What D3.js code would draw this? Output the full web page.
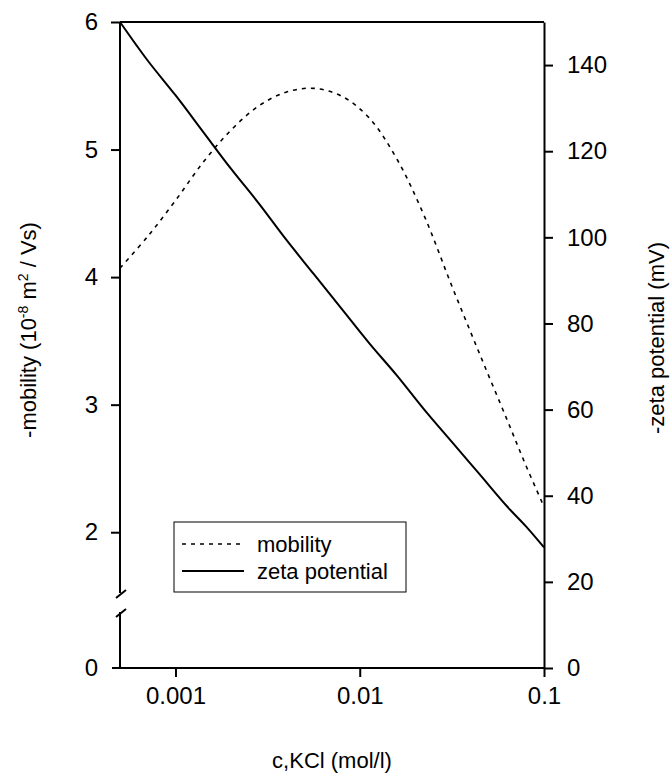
<!DOCTYPE html>
<html>
<head>
<meta charset="utf-8">
<script src="https://cdn.jsdelivr.net/npm/d3@7"></script>
<style>
  body { margin: 0; background: #fff; }
  svg { display: block; font-family: "Liberation Sans", Arial, sans-serif; }
</style>
</head>
<body>
<svg width="672" height="778"></svg>
<script>
// concentration (mol/l) where the curves were read
var conc = [0.0005, 0.000708, 0.001, 0.001413, 0.001995, 0.002818, 0.003981, 0.005623, 0.007943,
            0.01122, 0.01585, 0.02239, 0.03162, 0.04467, 0.0631, 0.0794, 0.1];
// -mobility (1e-8 m2/Vs), dashed, left axis
var mobility = [4.07, 4.32, 4.6, 4.9, 5.15, 5.34, 5.45, 5.48, 5.42, 5.25, 4.93, 4.48, 3.93, 3.4, 2.88, 2.53, 2.2];
// -zeta potential (mV), solid, right axis
var zeta = [150, 141, 133, 124.5, 116, 108, 99.5, 91.5, 83.5, 75.5, 68, 60, 52.5, 45, 37.5, 33, 28];

var xTicks = [0.001, 0.01, 0.1];
var xTickLabels = ["0.001", "0.01", "0.1"];
var leftTicks = [2, 3, 4, 5, 6];
var rightTicks = [0, 20, 40, 60, 80, 100, 120, 140];
var legendLabels = ["mobility", "zeta potential"];

var svg = d3.select("svg");
var pLeft = 120, pRight = 544, pTop = 22, pBottom = 668;

var x = d3.scaleLog().domain([0.0005, 0.1]).range([pLeft, pRight]);
var yL = d3.scaleLinear().domain([1.5, 6]).range([596, pTop]); // above the break
var yR = d3.scaleLinear().domain([0, 150]).range([pBottom, pTop]);

var fontSize = 24;

// top frame line
svg.append("line").attr("x1", pLeft).attr("x2", pRight).attr("y1", pTop).attr("y2", pTop)
    .attr("stroke", "#000").attr("stroke-width", 2);

// x axis
var xAxis = svg.append("g").attr("transform", "translate(0," + pBottom + ")")
    .call(d3.axisBottom(x).tickValues(xTicks).tickFormat(function (d, i) { return xTickLabels[i]; })
        .tickSizeInner(9).tickSizeOuter(0).tickPadding(10));
xAxis.select(".domain").attr("d", "M" + (pLeft - 8) + ",0H" + pRight).attr("stroke-width", 2);

// right axis
var rAxis = svg.append("g").attr("transform", "translate(" + pRight + ",0)")
    .call(d3.axisRight(yR).tickValues(rightTicks).tickSizeInner(9).tickSizeOuter(0).tickPadding(14));
rAxis.select(".domain").attr("stroke-width", 2);

// left axis, upper part
var lAxis = svg.append("g").attr("transform", "translate(" + pLeft + ",0)")
    .call(d3.axisLeft(yL).tickValues(leftTicks).tickFormat(d3.format("d"))
        .tickSizeInner(9).tickSizeOuter(0).tickPadding(13));
lAxis.select(".domain").attr("d", "M0," + pTop + "V593").attr("stroke-width", 2);

// left axis, lower part with zero
svg.append("line").attr("x1", pLeft).attr("x2", pLeft).attr("y1", 612).attr("y2", pBottom)
    .attr("stroke", "#000").attr("stroke-width", 2);
svg.append("text").attr("x", pLeft - 22).attr("y", pBottom).attr("dy", "0.35em")
    .attr("text-anchor", "end").style("font-size", fontSize + "px").text("0");

// break marks
[598, 617].forEach(function (yb) {
    svg.append("line").attr("x1", pLeft - 4).attr("y1", yb).attr("x2", pLeft + 6).attr("y2", yb - 8)
        .attr("stroke", "#000").attr("stroke-width", 2);
});

svg.selectAll(".tick line").attr("stroke-width", 2);
svg.selectAll(".tick text").style("font-size", fontSize + "px").attr("fill", "#000");

// curves
var lineMob = d3.line().curve(d3.curveCatmullRom)
    .x(function (d, i) { return x(conc[i]); })
    .y(function (d) { return yL(d); });
var lineZeta = d3.line().curve(d3.curveCatmullRom)
    .x(function (d, i) { return x(conc[i]); })
    .y(function (d) { return yR(d); });

svg.append("path").datum(mobility).attr("d", lineMob)
    .attr("fill", "none").attr("stroke", "#000").attr("stroke-width", 1.6).attr("stroke-dasharray", "4,5");
svg.append("path").datum(zeta).attr("d", lineZeta)
    .attr("fill", "none").attr("stroke", "#000").attr("stroke-width", 2);

// legend
var lg = svg.append("g").attr("transform", "translate(174,522)");
lg.append("rect").attr("width", 232).attr("height", 70)
    .attr("fill", "#fff").attr("stroke", "#000").attr("stroke-width", 1);
legendLabels.forEach(function (lab, i) {
    var yy = 22 + i * 27;
    lg.append("line").attr("x1", 8).attr("x2", 70).attr("y1", yy).attr("y2", yy)
        .attr("stroke", "#000").attr("stroke-width", i ? 2 : 1.6)
        .attr("stroke-dasharray", i ? null : "4,5");
    lg.append("text").attr("x", 83).attr("y", yy).attr("dy", "0.35em")
        .style("font-size", "22px").text(lab);
});

// axis titles
svg.append("text").attr("x", 332).attr("y", 768).attr("text-anchor", "middle")
    .style("font-size", "22px").text("c,KCl (mol/l)");

var tl = svg.append("text").attr("transform", "translate(36,330) rotate(-90)")
    .attr("text-anchor", "middle").style("font-size", "22px");
tl.append("tspan").text("-mobility (10");
tl.append("tspan").attr("dy", -8).style("font-size", "14px").text("-8");
tl.append("tspan").attr("dy", 8).text(" m");
tl.append("tspan").attr("dy", -8).style("font-size", "14px").text("2");
tl.append("tspan").attr("dy", 8).text(" / Vs)");

svg.append("text").attr("transform", "translate(664,338) rotate(-90)")
    .attr("text-anchor", "middle").style("font-size", "22px").text("-zeta potential (mV)");
</script>
</body>
</html>
